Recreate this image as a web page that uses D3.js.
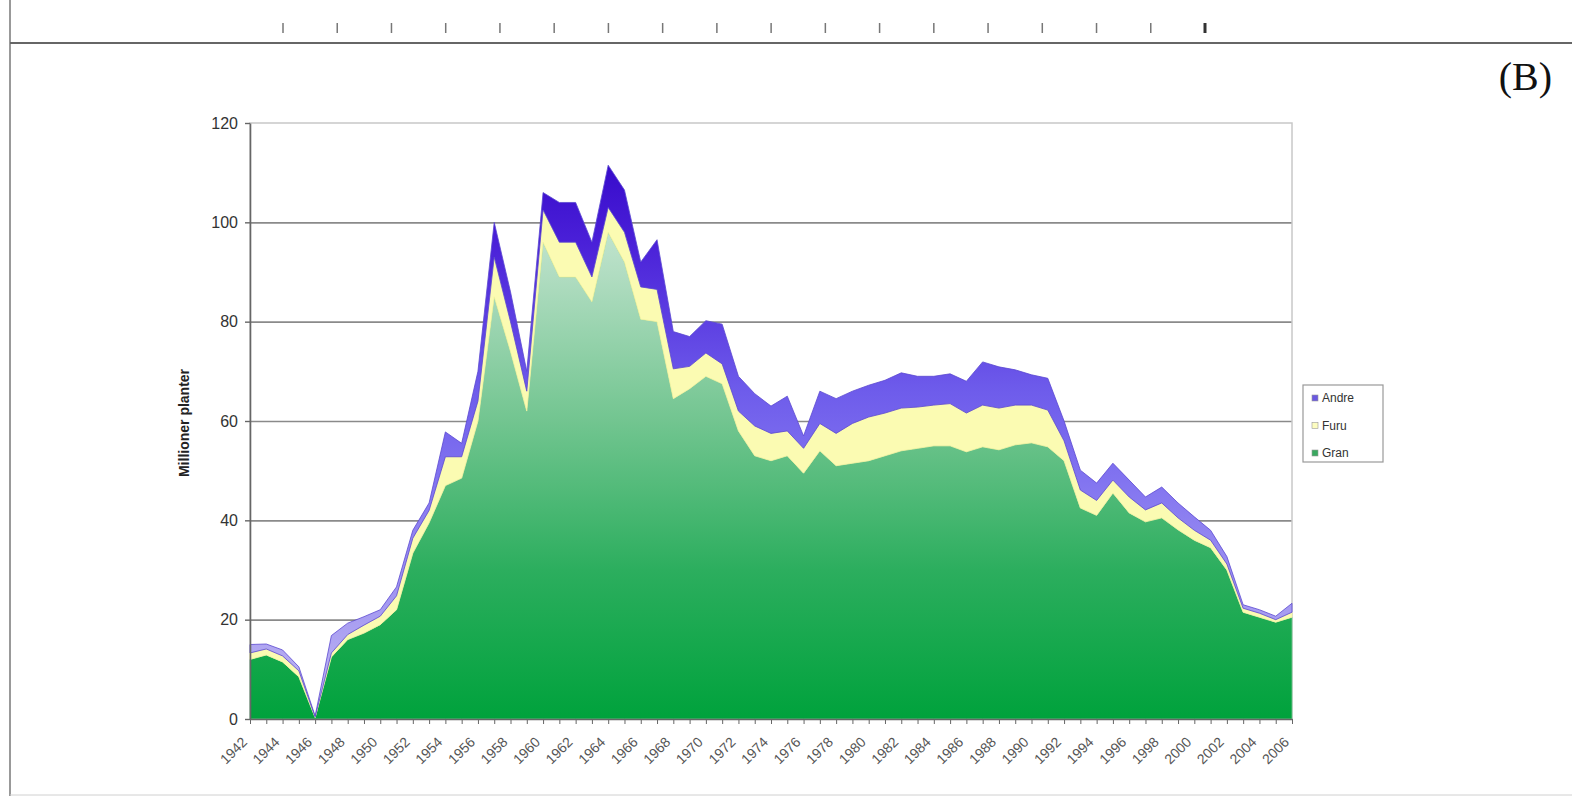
<!DOCTYPE html>
<html>
<head>
<meta charset="utf-8">
<script src="https://cdn.jsdelivr.net/npm/d3@7"></script>
<style>
  body { margin: 0; background: #fff; }
  svg { display: block; font-family: Arial, "Liberation Sans", sans-serif; }
</style>
</head>
<body>
<div id="chart"></div>
<script>
// Data (millions of plants per year)
var years = d3.range(1942, 2007);
var gran = [12, 12.9, 11.5, 8.5, 0.3, 12.5, 16, 17.3, 19, 22,
            33.4, 39.5, 47, 48.5, 60, 85, 74, 62, 96, 89,
            89, 84, 98, 92, 80.5, 80, 64.5, 66.5, 69, 67.5,
            58, 53, 52, 53, 49.5, 54, 51, 51.5, 52, 53,
            54, 54.5, 55, 55, 53.8, 54.8, 54.2, 55.2, 55.6, 54.8,
            52, 42.5, 41, 45.5, 41.5, 39.7, 40.5, 38.1, 36, 34.5,
            30, 21.5, 20.5, 19.5, 20.5];
var furu = [1.3, 1.2, 1.2, 1.2, 0.1, 0.8, 1, 1.6, 1.7, 2.8,
            3, 2.5, 5.8, 4.3, 4, 8, 6, 4, 6.5, 7,
            7, 5, 5, 6, 6.5, 6.5, 6, 4.5, 4.7, 4,
            4, 6, 5.5, 5, 5, 5.5, 6.5, 8, 8.8, 8.6,
            8.6, 8.3, 8.2, 8.5, 7.8, 8.4, 8.4, 8, 7.6, 7.4,
            4, 3.6, 3, 2.6, 3.2, 2.4, 3, 2.4, 2, 1.5,
            1.2, 0.8, 0.8, 0.5, 1];
var andre = [1.7, 1, 1.2, 0.8, 0.2, 3.5, 2.3, 1.7, 1.3, 1.8,
             1.6, 1.5, 5, 2.7, 6, 7, 6, 4, 3.5, 8,
             8, 7, 8.5, 8.5, 5, 10, 7.5, 6, 6.5, 8,
             7, 6.5, 5.5, 7, 2.5, 6.5, 7, 6.5, 6.4, 6.6,
             7.1, 6.2, 5.8, 6, 6.4, 8.7, 8.3, 7.1, 6.1, 6.4,
             4, 4, 3.5, 3.4, 3.4, 2.6, 3.2, 3, 2.7, 2,
             1.5, 0.7, 0.7, 0.7, 1.8];
var seriesKeys = ["Gran", "Furu", "Andre"];
var legendLabels = ["Andre", "Furu", "Gran"];
var yTicks = [0, 20, 40, 60, 80, 100, 120];
var xLabelYears = d3.range(1942, 2007, 2);
var yTitle = "Millioner planter";
var panelTag = "(B)";

var W = 1572, H = 796;
var plotLeft = 250, plotRight = 1292, plotTop = 123, plotBottom = 719;

var svg = d3.select("#chart").append("svg")
            .attr("width", W)
            .attr("height", H);

var defs = svg.append("defs");

function grad(id, stops) {
  var g = defs.append("linearGradient")
              .attr("id", id)
              .attr("gradientUnits", "userSpaceOnUse")
              .attr("x1", 0).attr("x2", 0)
              .attr("y1", plotTop).attr("y2", plotBottom);
  stops.forEach(function(s) {
    g.append("stop").attr("offset", s[0]).attr("stop-color", s[1]);
  });
}
grad("gGran", [["0%", "#e8f6ee"], ["25%", "#b2ddc2"], ["50%", "#72c590"], ["75%", "#2cae5e"], ["100%", "#00a23c"]]);
grad("gAndre", [["0%", "#2e00c4"], ["20%", "#4a20d8"], ["45%", "#6e5ceb"], ["60%", "#8274f0"], ["100%", "#c4bcf2"]]);

// page frame remains
svg.append("line").attr("x1", 10).attr("x2", 10).attr("y1", 0).attr("y2", H)
   .attr("stroke", "#777").attr("stroke-width", 1.5);
svg.append("line").attr("x1", 10).attr("x2", W).attr("y1", 43).attr("y2", 43)
   .attr("stroke", "#666").attr("stroke-width", 2);
svg.append("line").attr("x1", 10).attr("x2", W).attr("y1", 795).attr("y2", 795)
   .attr("stroke", "#d0d0d0").attr("stroke-width", 1);

// tick stubs of the panel above
var stub = d3.scaleLinear().domain([0, 17]).range([283, 1205]);
svg.append("g").selectAll("line")
   .data(d3.range(18))
   .enter().append("line")
   .attr("x1", function(d) { return stub(d); })
   .attr("x2", function(d) { return stub(d); })
   .attr("y1", 23).attr("y2", 33)
   .attr("stroke", function(d) { return d === 17 ? "#333" : "#777"; })
   .attr("stroke-width", function(d) { return d === 17 ? 3 : 1.5; });

svg.append("text")
   .attr("x", 1552).attr("y", 90)
   .attr("text-anchor", "end")
   .style("font-family", "'Liberation Serif', 'Times New Roman', serif")
   .style("font-size", "40px")
   .attr("fill", "#111")
   .text(panelTag);

// scales
var xScale = d3.scaleLinear().domain([1942, 2006]).range([plotLeft, plotRight]);
var yScale = d3.scaleLinear().domain([0, 120]).range([plotBottom, plotTop]);

// gridlines
var grid = d3.axisLeft(yScale)
             .tickValues(yTicks.slice(1, 6))
             .tickSize(-(plotRight - plotLeft))
             .tickFormat("");
svg.append("g")
   .attr("transform", "translate(" + plotLeft + ",0)")
   .call(grid)
   .call(function(g) {
     g.select(".domain").remove();
     g.selectAll("line").attr("stroke", "#8a8a8a").attr("stroke-width", 1.6);
   });

// plot border
svg.append("rect")
   .attr("x", plotLeft).attr("y", plotTop)
   .attr("width", plotRight - plotLeft).attr("height", plotBottom - plotTop)
   .attr("fill", "none").attr("stroke", "#c8c8c8").attr("stroke-width", 1.5);

// stacked areas
var table = years.map(function(yr, i) {
  return { year: yr, Gran: gran[i], Furu: furu[i], Andre: andre[i] };
});
var stacked = d3.stack().keys(seriesKeys)(table);
var area = d3.area()
             .x(function(d) { return xScale(d.data.year); })
             .y0(function(d) { return yScale(d[0]); })
             .y1(function(d) { return yScale(d[1]); });
var fills = { Gran: "url(#gGran)", Furu: "#fbfbb2", Andre: "url(#gAndre)" };
var strokes = { Gran: "#7cc896", Furu: "#f4f4a0", Andre: "#5a48d0" };

svg.append("g").selectAll("path")
   .data(stacked)
   .enter().append("path")
   .attr("d", area)
   .attr("fill", function(d) { return fills[d.key]; })
   .attr("stroke", function(d) { return strokes[d.key]; })
   .attr("stroke-width", 0.8)
   .attr("stroke-linejoin", "round");

// y axis
var yAxis = d3.axisLeft(yScale)
              .tickValues(yTicks)
              .tickSizeInner(5)
              .tickSizeOuter(0)
              .tickPadding(7);
svg.append("g")
   .attr("class", "y-axis")
   .attr("transform", "translate(" + plotLeft + ",0)")
   .call(yAxis)
   .call(function(g) {
     g.select(".domain").attr("stroke", "#666").attr("stroke-width", 1.6);
     g.selectAll("line").attr("stroke", "#666").attr("stroke-width", 1.4);
     g.selectAll("text").style("font-size", "16px").attr("fill", "#333");
   });

// x axis
var xAxis = d3.axisBottom(xScale)
              .tickValues(years)
              .tickSizeInner(5)
              .tickSizeOuter(0)
              .tickFormat("");
svg.append("g")
   .attr("class", "x-axis")
   .attr("transform", "translate(0," + plotBottom + ")")
   .call(xAxis)
   .call(function(g) {
     g.select(".domain").attr("stroke", "#666").attr("stroke-width", 1.6);
     g.selectAll("line").attr("stroke", "#666").attr("stroke-width", 1);
   });

svg.append("g").selectAll("text")
   .data(xLabelYears)
   .enter().append("text")
   .attr("transform", function(d) {
     return "translate(" + (xScale(d) - 2) + "," + (plotBottom + 24) + ") rotate(-45)";
   })
   .attr("text-anchor", "end")
   .style("font-size", "14px")
   .attr("fill", "#555")
   .text(function(d) { return d; });

// y title
svg.append("text")
   .attr("transform", "translate(189,423) rotate(-90)")
   .attr("text-anchor", "middle")
   .style("font-size", "14px")
   .style("font-weight", "bold")
   .attr("fill", "#222")
   .text(yTitle);

// legend
var legend = svg.append("g").attr("transform", "translate(1303,385)");
legend.append("rect")
      .attr("width", 80).attr("height", 77)
      .attr("fill", "#fff").attr("stroke", "#999").attr("stroke-width", 1.2);
var swatch = { Andre: "#6a58e0", Furu: "#fdfdc0", Gran: "#3aa860" };
var ly = d3.scalePoint().domain(legendLabels).range([13, 68]);
var items = legend.selectAll("g.item")
                  .data(legendLabels)
                  .enter().append("g")
                  .attr("class", "item")
                  .attr("transform", function(d) { return "translate(0," + ly(d) + ")"; });
items.append("rect")
     .attr("x", 9).attr("y", -3).attr("width", 6).attr("height", 6)
     .attr("fill", function(d) { return swatch[d]; })
     .attr("stroke", "#999").attr("stroke-width", 0.6);
items.append("text")
     .attr("x", 19).attr("y", 4)
     .style("font-size", "12px")
     .attr("fill", "#333")
     .text(function(d) { return d; });
</script>
</body>
</html>
